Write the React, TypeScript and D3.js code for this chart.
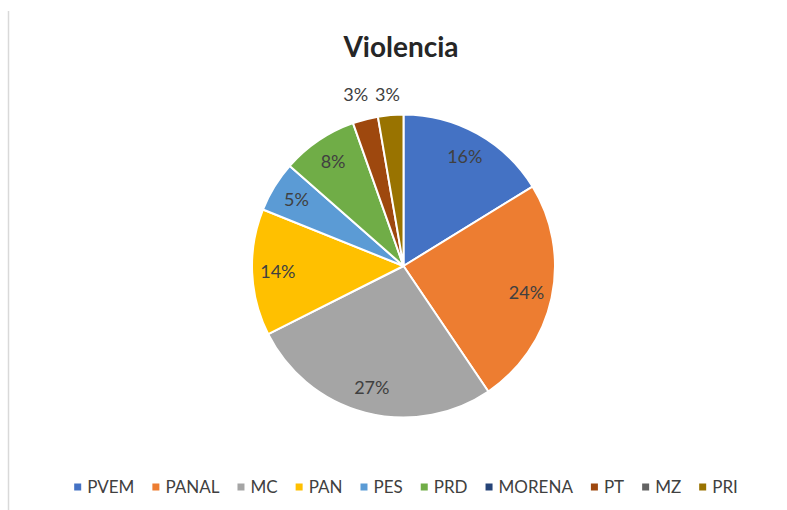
import React, { useEffect, useRef } from "react";
import * as d3 from "d3";

const title = "Violencia";
const categories = ["PVEM", "PANAL", "MC", "PAN", "PES", "PRD", "MORENA", "PT", "MZ", "PRI"];
const values = [6, 9, 10, 5, 2, 3, 0, 1, 0, 1];
const colors = ["#4472C4", "#ED7D31", "#A5A5A5", "#FFC000", "#5B9BD5", "#70AD47", "#264478", "#9E480E", "#636363", "#997300"];

const W = 787;
const H = 510;
const FONT = "Lato, 'Open Sans', sans-serif";

export default function App() {
  const ref = useRef<SVGSVGElement | null>(null);

  useEffect(() => {
    const svg = d3.select(ref.current);
    svg.selectAll("*").remove();

    // frame line on the left
    svg.append("line").attr("x1", 8.5).attr("x2", 8.5).attr("y1", 11).attr("y2", H)
      .attr("stroke", "#d9d9d9").attr("stroke-width", 1.5);

    svg.append("text").attr("x", 401).attr("y", 57).attr("text-anchor", "middle")
      .attr("font-family", FONT).attr("font-weight", 700).attr("font-size", 28)
      .attr("fill", "#262626").text(title);

    const cx = 403.5, cy = 266, r = 151.5;
    const total = d3.sum(values);
    const data = categories.map((c, i) => ({ c, v: values[i], color: colors[i] }));
    const pie = d3.pie<any>().sort(null).value((d: any) => d.v);
    const arcs = pie(data);
    const arc = d3.arc<any>().innerRadius(0).outerRadius(r);

    const g = svg.append("g").attr("transform", `translate(${cx},${cy})`);
    g.selectAll("path").data(arcs.filter(a => a.data.v > 0)).enter().append("path")
      .attr("d", arc as any).attr("fill", (d: any) => d.data.color)
      .attr("stroke", "#fff").attr("stroke-width", 2).attr("stroke-linejoin", "round");

    arcs.filter(a => a.data.v > 0).forEach(a => {
      const pct = Math.round((a.data.v / total) * 100);
      const mid = (a.startAngle + a.endAngle) / 2;
      let x: number, y: number;
      if (pct < 4) {
        x = Math.sin(mid) * (r + 38);
        y = -r - 20;
      } else {
        const R = r * 0.83;
        x = Math.sin(mid) * R;
        y = -Math.cos(mid) * R;
      }
      g.append("text").attr("x", x).attr("y", y).attr("dy", "0.35em")
        .attr("text-anchor", "middle").attr("font-family", FONT).attr("font-size", 18)
        .attr("fill", "#404040").text(pct + "%");
    });

    // legend
    const lg = svg.append("g");
    const items: { g: any; w: number }[] = [];
    data.forEach(d => {
      const ig = lg.append("g");
      ig.append("rect").attr("x", 0).attr("y", -3.5).attr("width", 7).attr("height", 7).attr("fill", d.color);
      const t = ig.append("text").attr("x", 13).attr("y", 0).attr("dy", "0.35em")
        .attr("font-family", FONT).attr("font-size", 17).attr("fill", "#404040").text(d.c);
      const tw = (t.node() as SVGTextElement).getComputedTextLength();
      items.push({ g: ig, w: 13 + tw });
    });
    const gap = 18;
    const totalW = d3.sum(items, it => it.w) + gap * (items.length - 1);
    let x0 = 406 - totalW / 2;
    items.forEach(it => {
      it.g.attr("transform", `translate(${x0},487)`);
      x0 += it.w + gap;
    });
  }, []);

  return (
    <svg ref={ref} width={W} height={H} style={{ position: "absolute", left: 0, top: 0, background: "#fff" }} />
  );
}
